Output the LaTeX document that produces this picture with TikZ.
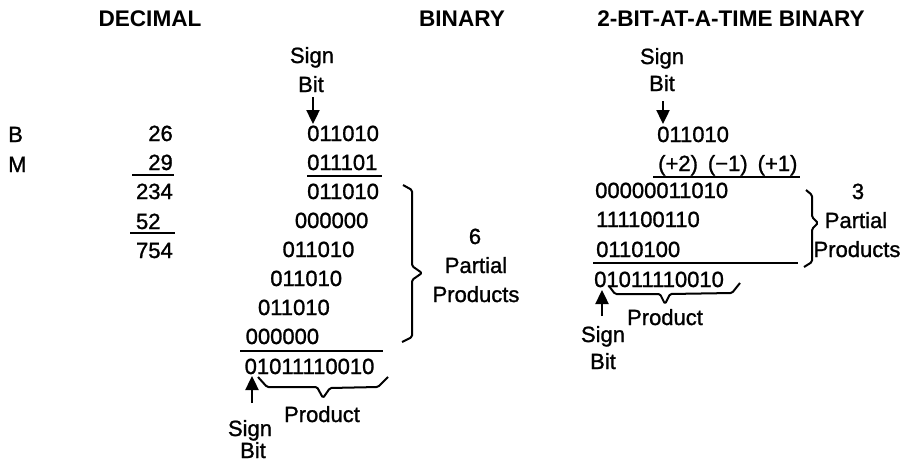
\documentclass[tikz,border=0pt]{standalone}
\usepackage{fontspec}
\setmainfont{Liberation Sans}
\newfontfamily\medfont[FakeBold=1.2]{Liberation Sans}
\usetikzlibrary{arrows.meta}
\begin{document}
\begin{tikzpicture}[x=1pt,y=-1pt,
  txt/.style={inner sep=0pt,font=\medfont\fontsize{22}{26}\selectfont},
  hd/.style={inner sep=0pt,font=\fontsize{22.6}{27}\selectfont\bfseries},
  rulel/.style={line width=2pt},
  brc/.style={line width=2pt,line join=round,rounded corners=1.5pt},
  sarrow/.style={line width=2.4pt,-{Triangle[width=13pt,length=14pt]}}]
\useasboundingbox (0,0) rectangle (902,463);
% headings
\node[hd,anchor=base] (hdec) at (150,26) {DECIMAL};
\node[hd,anchor=base] (hbin) at (462,26) {BINARY};
\node[hd,anchor=base] (htwo) at (731,26) {2-BIT-AT-A-TIME BINARY};
% row labels
\node[txt,anchor=base west] (lB) at (8,142) {B};
\node[txt,anchor=base west] (lM) at (8,172) {M};
% decimal
\node[txt,anchor=base east] (d1) at (173,141) {26};
\node[txt,anchor=base east] (d2) at (173,170) {29};
\node[txt,anchor=base east] (d3) at (173,199) {234};
\node[txt,anchor=base east] (d4) at (160.7,229) {52};
\node[txt,anchor=base east] (d5) at (173,258) {754};
\draw[rulel] (132,175) -- (174,175);
\draw[rulel] (130,233) -- (175,233);
% binary
\node[txt,anchor=base] (bsg) at (312,63) {Sign};
\node[txt,anchor=base] (bbt) at (311,92) {Bit};
\coordinate (ba1s) at (313,97);
\coordinate (ba1e) at (313,124);
\draw[sarrow] (ba1s) -- (ba1e);
\node[txt,anchor=base west] (b1) at (307,141) {011010};
\node[txt,anchor=base west] (b2) at (307,170) {011101};
\draw[rulel] (307,176) -- (382,176);
\node[txt,anchor=base west] (b3) at (307,199) {011010};
\node[txt,anchor=base west] (b4) at (294.7,228) {000000};
\node[txt,anchor=base west] (b5) at (282.4,257) {011010};
\node[txt,anchor=base west] (b6) at (270.1,286) {011010};
\node[txt,anchor=base west] (b7) at (257.8,315) {011010};
\node[txt,anchor=base west] (b8) at (245.5,344) {000000};
\draw[rulel] (240,351) -- (383,351);
\node[txt,anchor=base west] (bres) at (244.5,374) {01011110010};
\draw[brc] (403,185) -- (412,190) -- (412,266) -- (422,273) -- (412,280) -- (412,337) -- (402,342);
\node[txt,anchor=base] (bn6) at (475,244) {6};
\node[txt,anchor=base] (bpart) at (476,273) {Partial};
\node[txt,anchor=base] (bprods) at (476,302) {Products};
\draw[brc] (258,377) -- (267,387) -- (317,387) -- (323,398) -- (330,388) -- (378,387) -- (388,377);
\node[txt,anchor=base] (bprod) at (322,422) {Product};
\coordinate (ba2s) at (252,403);
\coordinate (ba2e) at (252,376);
\draw[sarrow] (ba2s) -- (ba2e);
\node[txt,anchor=base] (bsg2) at (250,436) {Sign};
\node[txt,anchor=base] (bbt2) at (253,458) {Bit};
% 2-bit-at-a-time
\node[txt,anchor=base] (tsg) at (662,64) {Sign};
\node[txt,anchor=base] (tbt) at (662,91) {Bit};
\coordinate (ta1s) at (663,101);
\coordinate (ta1e) at (663,124);
\draw[sarrow] (ta1s) -- (ta1e);
\node[txt,anchor=base west] (t1) at (657,142) {011010};
\node[txt,anchor=base west] (t2) at (658,171) {(+2)\hspace{10pt}(−1)\hspace{10pt}(+1)};
\draw[rulel] (653,177) -- (800,177);
\node[txt,anchor=base west] (t3) at (595,198) {00000011010};
\node[txt,anchor=base west] (t4) at (596,227) {111100110};
\node[txt,anchor=base west] (t5) at (596,257) {0110100};
\draw[rulel] (593,263) -- (798,263);
\node[txt,anchor=base west] (tres) at (594,287) {01011110010};
\draw[brc] (806,190) -- (812,195) -- (812,217) -- (818,223) -- (812,229) -- (812,262) -- (804,267);
\node[txt,anchor=base] (tn3) at (858,199) {3};
\node[txt,anchor=base] (tpart) at (856,228) {Partial};
\node[txt,anchor=base] (tprods) at (857,257) {Products};
\draw[brc] (609,286) -- (615,294) -- (660,294) -- (665,304) -- (670,294) -- (732,293) -- (740,283);
\node[txt,anchor=base] (tprod) at (665,325) {Product};
\coordinate (ta2s) at (602,316);
\coordinate (ta2e) at (602,290);
\draw[sarrow] (ta2s) -- (ta2e);
\node[txt,anchor=base] (tsg2) at (603,342) {Sign};
\node[txt,anchor=base] (tbt2) at (603,369) {Bit};
\end{tikzpicture}
\end{document}
